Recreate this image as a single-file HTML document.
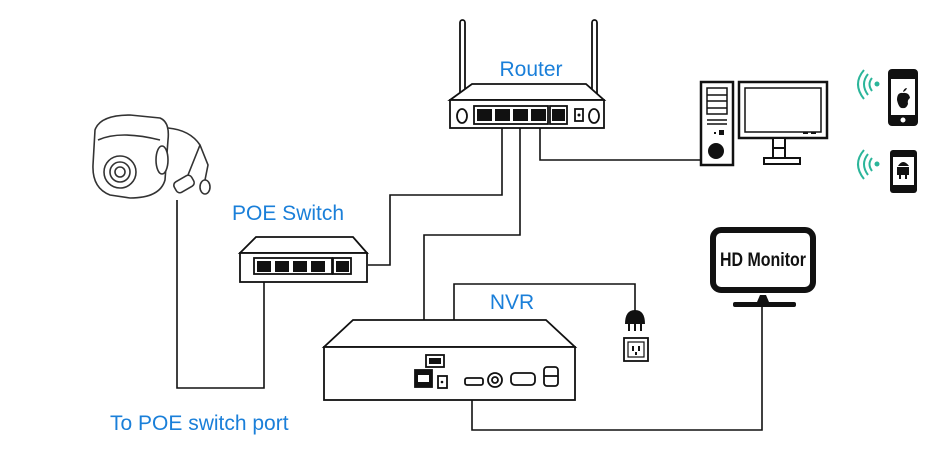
<!DOCTYPE html>
<html><head><style>
html,body{margin:0;padding:0;background:#fff;width:950px;height:464px;overflow:hidden}
text{font-family:"Liberation Sans","DejaVu Sans",sans-serif}
</style></head><body>
<svg width="950" height="464" viewBox="0 0 950 464" xmlns="http://www.w3.org/2000/svg">
<g fill="none" stroke="#111" stroke-width="1.6">
<!-- connectors -->
<polyline points="502,125 502,195 390,195 390,265 368,265"/>
<polyline points="520,125 520,235 424,235 424,370"/>
<polyline points="540,125 540,160 700,160"/>
<polyline points="177,200 177,388 264,388 264,282"/>
<polyline points="447,381 454,381 454,284 635,284 635,312"/>
<polyline points="472,384 472,430 762,430 762,305"/>
</g>
<!-- Router -->
<g stroke="#111" stroke-width="1.8" fill="#fff">
<rect x="460" y="20" width="5" height="100" rx="2.5"/>
<rect x="592" y="20" width="5" height="100" rx="2.5"/>
<polygon points="472,84 586,84 604,100 450,100"/>
<rect x="450" y="100" width="154" height="28"/>
<ellipse cx="462" cy="116" rx="5" ry="7"/>
<ellipse cx="594" cy="116" rx="5" ry="7"/>
<rect x="474" y="106" width="74" height="18"/>
<rect x="550" y="106" width="17" height="18"/>
<rect x="575" y="109" width="8" height="12"/>
</g>
<g fill="#111">
<rect x="477" y="109" width="15" height="12"/><rect x="495" y="109" width="15" height="12"/>
<rect x="513" y="109" width="15" height="12"/><rect x="531" y="109" width="15" height="12"/>
<rect x="552" y="109" width="13" height="12"/><circle cx="579" cy="115" r="1.5"/>
</g>
<text x="531" y="76" font-size="21" fill="#1a7fd9" text-anchor="middle">Router</text>
<!-- POE switch -->
<g stroke="#111" stroke-width="1.8" fill="#fff">
<polygon points="256,237 353,237 367,253 240,253"/>
<rect x="240" y="253" width="127" height="29"/>
<rect x="254" y="258" width="78" height="16"/>
<rect x="333" y="258" width="18" height="16"/>
</g>
<g fill="#111">
<rect x="257" y="261" width="14" height="11"/><rect x="275" y="261" width="14" height="11"/>
<rect x="293" y="261" width="14" height="11"/><rect x="311" y="261" width="14" height="11"/>
<rect x="336" y="261" width="13" height="11"/>
</g>
<text x="232" y="220" font-size="21" fill="#1a7fd9">POE Switch</text>
<!-- Camera -->
<g stroke="#333" stroke-width="1.6" fill="#fff">
<path d="M95,130 Q100,115 130,115 L160,118 Q170,122 168,140 L165,180 Q160,198 130,198 L110,195 Q92,188 93,165 Z"/>
<path d="M98,140 Q120,130 160,140"/>
<circle cx="120" cy="172" r="16"/><circle cx="120" cy="172" r="10"/><circle cx="120" cy="172" r="5"/>
<ellipse cx="162" cy="160" rx="6" ry="14"/>
<path d="M168,128 Q190,130 200,145 L208,165 L205,180"/>
<path d="M200,145 L188,175"/>
<rect x="174" y="178" width="20" height="12" rx="4" transform="rotate(-30 184 184)"/>
<ellipse cx="205" cy="187" rx="5" ry="7"/>
</g>
<text x="110" y="430" font-size="21" fill="#1a7fd9">To POE switch port</text>
<!-- NVR -->
<g stroke="#111" stroke-width="1.8" fill="#fff">
<polygon points="353,320 546,320 575,347 324,347"/>
<rect x="324" y="347" width="251" height="53"/>
<rect x="426" y="355" width="18" height="12"/>
<rect x="429" y="358" width="12" height="6" fill="#111" stroke="none"/>
<rect x="415" y="370" width="17" height="17" fill="#111"/>
<rect x="418" y="375" width="11" height="7" fill="#fff" stroke="none"/>
<rect x="438" y="376" width="9" height="12"/>
<rect x="465" y="378" width="18" height="7" rx="2"/>
<circle cx="495" cy="380" r="7"/><circle cx="495" cy="380" r="3"/>
<rect x="511" y="373" width="24" height="12" rx="4"/>
<rect x="544" y="367" width="14" height="19" rx="3"/>
<line x1="544" y1="376" x2="558" y2="376"/>
</g>
<circle cx="442" cy="382" r="1.3" fill="#111"/>
<text x="512" y="309" font-size="21" fill="#1a7fd9" text-anchor="middle">NVR</text>
<!-- plug/outlet -->
<path d="M625,324 Q625,310 635,310 Q645,310 645,324 Z" fill="#111"/>
<g stroke="#111" stroke-width="2"><line x1="629" y1="324" x2="629" y2="331"/><line x1="635" y1="324" x2="635" y2="331"/><line x1="641" y1="324" x2="641" y2="331"/></g>
<rect x="624" y="338" width="24" height="23" fill="#fff" stroke="#111" stroke-width="1.8"/>
<rect x="628" y="342" width="16" height="15" fill="#fff" stroke="#111" stroke-width="1.2"/>
<g fill="#111"><rect x="632" y="346" width="2" height="5"/><rect x="638" y="346" width="2" height="5"/><rect x="635" y="352" width="2" height="3"/></g>
<!-- HD Monitor -->
<rect x="713" y="230" width="100" height="60" rx="8" fill="#fff" stroke="#111" stroke-width="6"/>
<text x="763" y="266" font-size="19" font-weight="bold" text-anchor="middle" fill="#111" textLength="86" lengthAdjust="spacingAndGlyphs">HD Monitor</text>
<path d="M757,302 L760,295 L766,295 L769,302 Z" fill="#111"/>
<rect x="733" y="302" width="63" height="5" rx="2" fill="#111"/>
<!-- Computer -->
<g stroke="#111" stroke-width="2.5" fill="#fff">
<rect x="701" y="82" width="32" height="83"/>
<rect x="739" y="82" width="88" height="56"/>
<rect x="745" y="88" width="76" height="44" stroke-width="1.5"/>
<rect x="773" y="138" width="12" height="20" stroke-width="2"/>
<line x1="773" y1="148" x2="785" y2="148" stroke-width="2"/>
<rect x="764" y="158" width="36" height="6" stroke-width="2"/>
</g>
<g stroke="#111" stroke-width="1.5" fill="none">
<rect x="707" y="88" width="20" height="26"/><line x1="707" y1="95" x2="727" y2="95"/><line x1="707" y1="101" x2="727" y2="101"/><line x1="707" y1="108" x2="727" y2="108"/>
<line x1="707" y1="120" x2="727" y2="120"/><line x1="707" y1="124" x2="727" y2="124"/>
</g>
<rect x="719" y="130" width="5" height="5" fill="#111"/><rect x="714" y="132" width="2" height="2" fill="#111"/>
<circle cx="716" cy="151" r="8" fill="#111"/>
<rect x="803" y="132" width="5" height="2" fill="#111"/><rect x="811" y="132" width="5" height="2" fill="#111"/>
<!-- phones -->
<rect x="888" y="69" width="30" height="57" rx="4" fill="#111"/>
<rect x="891" y="79" width="24" height="36" fill="#fff"/>
<circle cx="903" cy="120" r="2.5" fill="#fff"/>
<path d="M897,100 Q897,92 903,93 Q909,92 910,98 Q907,100 908,104 Q906,109 903,108 Q899,109 897,100 Z M903,92 Q904,88 907,88 Q906,91 903,92Z" fill="#111"/>
<rect x="890" y="150" width="27" height="43" rx="3" fill="#111"/>
<rect x="893" y="157" width="21" height="28" fill="#fff"/>
<path d="M898,166 Q903,158 909,166 Z M897,167 h12 v8 h-2 v4 h-2 v-4 h-4 v4 h-2 v-4 h-2 Z" fill="#111"/>
<g fill="none" stroke="#2bb59a" stroke-width="2">
<path d="M868,74 Q860,84 868,95"/><path d="M872,78 Q867,84 872,91"/><path d="M864,70 Q852,84 864,99"/>
<path d="M868,154 Q860,164 868,175"/><path d="M872,158 Q867,164 872,171"/><path d="M864,150 Q852,164 864,179"/>
</g>
<circle cx="877" cy="84" r="2.5" fill="#2bb59a"/><circle cx="877" cy="164" r="2.5" fill="#2bb59a"/>
</svg>
</body></html>
